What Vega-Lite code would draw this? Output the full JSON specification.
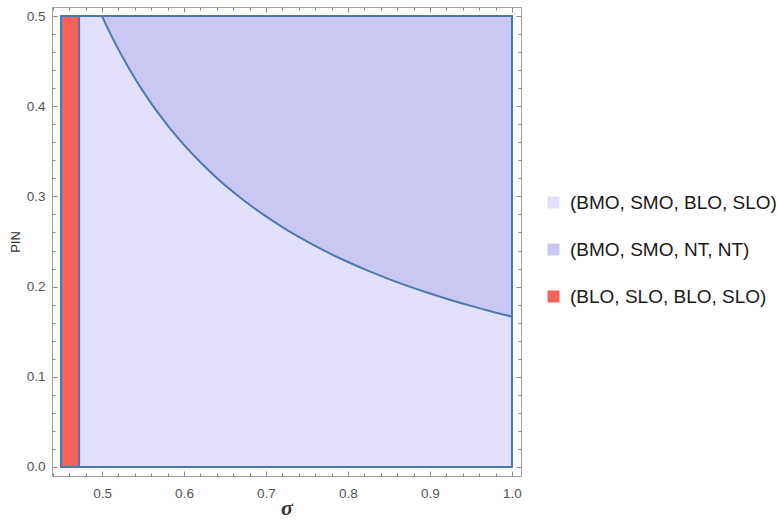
{
  "$schema": "https://vega.github.io/schema/vega-lite/v6.json",
  "width": 469,
  "height": 469,
  "autosize": "none",
  "padding": {"left": 52, "top": 7, "right": 257, "bottom": 45},
  "background": "white",
  "config": {
    "view": {"stroke": null},
    "axis": {
      "labelFont": "Liberation Sans",
      "labelFontSize": 13.5,
      "labelColor": "#555555",
      "tickColor": "#888888",
      "domainColor": "#a0a0a0",
      "domainWidth": 1,
      "tickWidth": 1,
      "grid": false,
      "zindex": 1,
      "titleFont": "Liberation Sans",
      "titleColor": "#333333",
      "titleFontWeight": "normal"
    },
    "legend": {
      "orient": "none",
      "legendX": 492,
      "legendY": 186,
      "labelFont": "Liberation Sans",
      "labelFontSize": 19,
      "labelColor": "#1a1a1a",
      "labelLimit": 0,
      "symbolType": "square",
      "symbolSize": 144,
      "symbolStrokeWidth": 0,
      "rowPadding": 27,
      "labelOffset": 7,
      "title": null
    }
  },
  "datasets": {
    "regions": [
      {"label": "(BMO, SMO, BLO, SLO)", "x": 0.472, "x2": 1.0, "y": 0, "y2": 0.5},
      {"label": "(BLO, SLO, BLO, SLO)", "x": 0.45, "x2": 0.472, "y": 0, "y2": 0.5}
    ],
    "curve": [
      {"label": "(BMO, SMO, NT, NT)", "sigma": 0.5, "pin": 0.5, "top": 0.5},
      {"label": "(BMO, SMO, NT, NT)", "sigma": 0.505, "pin": 0.4902, "top": 0.5},
      {"label": "(BMO, SMO, NT, NT)", "sigma": 0.51, "pin": 0.4808, "top": 0.5},
      {"label": "(BMO, SMO, NT, NT)", "sigma": 0.515, "pin": 0.4717, "top": 0.5},
      {"label": "(BMO, SMO, NT, NT)", "sigma": 0.52, "pin": 0.463, "top": 0.5},
      {"label": "(BMO, SMO, NT, NT)", "sigma": 0.53, "pin": 0.4464, "top": 0.5},
      {"label": "(BMO, SMO, NT, NT)", "sigma": 0.54, "pin": 0.431, "top": 0.5},
      {"label": "(BMO, SMO, NT, NT)", "sigma": 0.55, "pin": 0.4167, "top": 0.5},
      {"label": "(BMO, SMO, NT, NT)", "sigma": 0.56, "pin": 0.4032, "top": 0.5},
      {"label": "(BMO, SMO, NT, NT)", "sigma": 0.57, "pin": 0.3906, "top": 0.5},
      {"label": "(BMO, SMO, NT, NT)", "sigma": 0.58, "pin": 0.3788, "top": 0.5},
      {"label": "(BMO, SMO, NT, NT)", "sigma": 0.59, "pin": 0.3676, "top": 0.5},
      {"label": "(BMO, SMO, NT, NT)", "sigma": 0.6, "pin": 0.3571, "top": 0.5},
      {"label": "(BMO, SMO, NT, NT)", "sigma": 0.62, "pin": 0.3378, "top": 0.5},
      {"label": "(BMO, SMO, NT, NT)", "sigma": 0.64, "pin": 0.3205, "top": 0.5},
      {"label": "(BMO, SMO, NT, NT)", "sigma": 0.66, "pin": 0.3049, "top": 0.5},
      {"label": "(BMO, SMO, NT, NT)", "sigma": 0.68, "pin": 0.2907, "top": 0.5},
      {"label": "(BMO, SMO, NT, NT)", "sigma": 0.7, "pin": 0.2778, "top": 0.5},
      {"label": "(BMO, SMO, NT, NT)", "sigma": 0.72, "pin": 0.266, "top": 0.5},
      {"label": "(BMO, SMO, NT, NT)", "sigma": 0.74, "pin": 0.2551, "top": 0.5},
      {"label": "(BMO, SMO, NT, NT)", "sigma": 0.76, "pin": 0.2451, "top": 0.5},
      {"label": "(BMO, SMO, NT, NT)", "sigma": 0.78, "pin": 0.2358, "top": 0.5},
      {"label": "(BMO, SMO, NT, NT)", "sigma": 0.8, "pin": 0.2273, "top": 0.5},
      {"label": "(BMO, SMO, NT, NT)", "sigma": 0.825, "pin": 0.2174, "top": 0.5},
      {"label": "(BMO, SMO, NT, NT)", "sigma": 0.85, "pin": 0.2083, "top": 0.5},
      {"label": "(BMO, SMO, NT, NT)", "sigma": 0.875, "pin": 0.2, "top": 0.5},
      {"label": "(BMO, SMO, NT, NT)", "sigma": 0.9, "pin": 0.1923, "top": 0.5},
      {"label": "(BMO, SMO, NT, NT)", "sigma": 0.925, "pin": 0.1852, "top": 0.5},
      {"label": "(BMO, SMO, NT, NT)", "sigma": 0.95, "pin": 0.1786, "top": 0.5},
      {"label": "(BMO, SMO, NT, NT)", "sigma": 0.975, "pin": 0.1724, "top": 0.5},
      {"label": "(BMO, SMO, NT, NT)", "sigma": 1.0, "pin": 0.1667, "top": 0.5}
    ]
  },
  "resolve": {"axis": {"x": "independent", "y": "independent"}},
  "layer": [
    {
      "data": {"name": "regions"},
      "transform": [{"filter": "datum.x > 0.46"}],
      "mark": {"type": "rect", "opacity": 1},
      "encoding": {
        "x": {"field": "x", "type": "quantitative",
              "scale": {"domain": [0.439, 1.011], "nice": false, "zero": false},
              "axis": {"orient": "bottom", "values": [0.5, 0.6, 0.7, 0.8, 0.9, 1.0], "format": ".1f",
                       "tickSize": -5, "labelPadding": 15, "title": "σ",
                       "titleFont": "Liberation Serif", "titleFontStyle": "italic", "titleFontWeight": "bold",
                       "titleFontSize": 22, "titlePadding": -2, "titleColor": "#333333"}},
        "x2": {"field": "x2"},
        "y": {"field": "y", "type": "quantitative",
              "scale": {"domain": [-0.01, 0.51], "nice": false, "zero": false},
              "axis": {"orient": "left", "values": [0, 0.1, 0.2, 0.3, 0.4, 0.5], "format": ".1f",
                       "tickSize": -5, "labelPadding": 12, "title": "PIN", "titleFontSize": 13,
                       "titlePadding": 4}},
        "y2": {"field": "y2"},
        "color": {"field": "label", "type": "nominal",
                  "scale": {"domain": ["(BMO, SMO, BLO, SLO)", "(BMO, SMO, NT, NT)", "(BLO, SLO, BLO, SLO)"],
                            "range": ["#e2e0fb", "#cbc7f5", "#f6625d"]},
                  "legend": {}}
      }
    },
    {
      "data": {"name": "curve"},
      "mark": {"type": "area", "opacity": 1, "interpolate": "monotone"},
      "encoding": {
        "x": {"field": "sigma", "type": "quantitative",
              "axis": {"orient": "bottom", "values": [0.44, 0.46, 0.48, 0.52, 0.54, 0.56, 0.58, 0.62, 0.64, 0.66, 0.68, 0.72, 0.74, 0.76, 0.78, 0.82, 0.84, 0.86, 0.88, 0.92, 0.94, 0.96, 0.98],
                       "tickSize": -3, "labels": false, "domain": false, "title": null}},
        "y": {"field": "pin", "type": "quantitative",
              "axis": {"orient": "left", "values": [0.02, 0.04, 0.06, 0.08, 0.12, 0.14, 0.16, 0.18, 0.22, 0.24, 0.26, 0.28, 0.32, 0.34, 0.36, 0.38, 0.42, 0.44, 0.46, 0.48],
                       "tickSize": -3, "labels": false, "domain": false, "title": null}},
        "y2": {"field": "top"},
        "color": {"field": "label", "type": "nominal"}
      }
    },
    {
      "data": {"name": "curve"},
      "mark": {"type": "line", "color": "#4f78b0", "strokeWidth": 2, "interpolate": "monotone"},
      "encoding": {
        "x": {"field": "sigma", "type": "quantitative",
              "axis": {"orient": "top", "values": [0.5, 0.6, 0.7, 0.8, 0.9, 1.0], "tickSize": -5, "labels": false, "title": null}},
        "y": {"field": "pin", "type": "quantitative",
              "axis": {"orient": "right", "values": [0, 0.1, 0.2, 0.3, 0.4, 0.5], "tickSize": -5, "labels": false, "title": null}}
      }
    },
    {
      "data": {"name": "regions"},
      "transform": [{"filter": "datum.x < 0.46"}],
      "mark": {"type": "rect", "opacity": 1},
      "encoding": {
        "x": {"field": "x", "type": "quantitative",
              "axis": {"orient": "top", "values": [0.44, 0.46, 0.48, 0.52, 0.54, 0.56, 0.58, 0.62, 0.64, 0.66, 0.68, 0.72, 0.74, 0.76, 0.78, 0.82, 0.84, 0.86, 0.88, 0.92, 0.94, 0.96, 0.98],
                       "tickSize": -3, "labels": false, "domain": false, "title": null}},
        "x2": {"field": "x2"},
        "y": {"field": "y", "type": "quantitative",
              "axis": {"orient": "right", "values": [0.02, 0.04, 0.06, 0.08, 0.12, 0.14, 0.16, 0.18, 0.22, 0.24, 0.26, 0.28, 0.32, 0.34, 0.36, 0.38, 0.42, 0.44, 0.46, 0.48],
                       "tickSize": -3, "labels": false, "domain": false, "title": null}},
        "y2": {"field": "y2"},
        "color": {"field": "label", "type": "nominal"}
      }
    },
    {
      "data": {"name": "regions"},
      "mark": {"type": "rect", "filled": false, "stroke": "#4f78b0", "strokeWidth": 2},
      "encoding": {
        "x": {"field": "x", "type": "quantitative", "axis": null},
        "x2": {"field": "x2"},
        "y": {"field": "y", "type": "quantitative", "axis": null},
        "y2": {"field": "y2"}
      }
    }
  ]
}
